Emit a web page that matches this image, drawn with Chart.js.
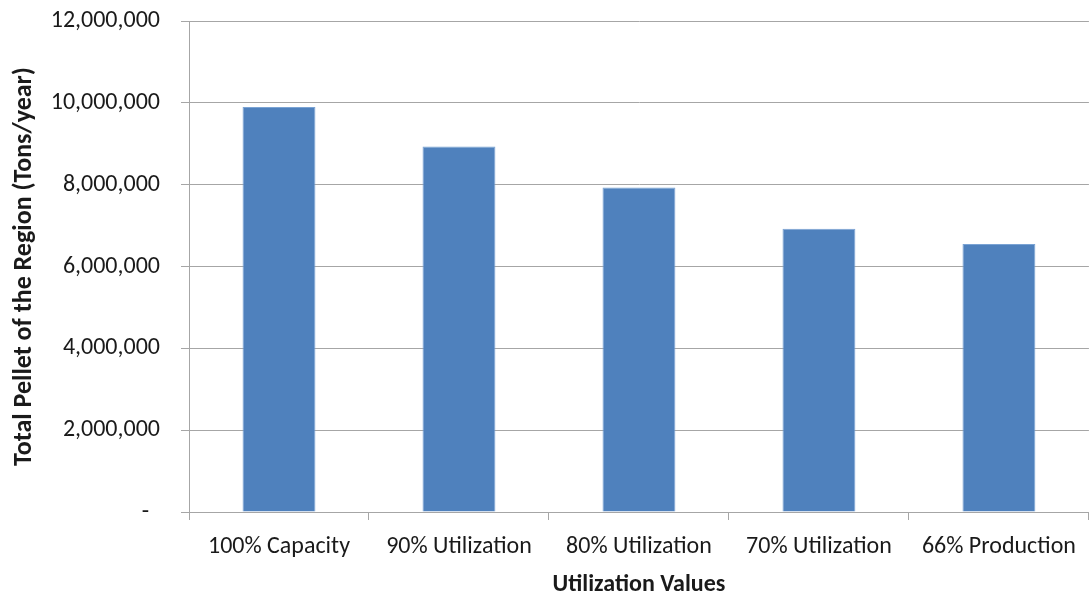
<!DOCTYPE html>
<html>
<head>
<meta charset="utf-8">
<script src="https://cdn.jsdelivr.net/npm/chart.js@4/dist/chart.umd.min.js"></script>
<style>
  html, body { margin: 0; padding: 0; background: #fff; }
  #wrap { width: 1091px; height: 592px; }
</style>
</head>
<body>
<div id="wrap"><canvas id="chart" width="1091" height="592"></canvas></div>
<script>
// 数据
const categories = ['100% Capacity', '90% Utilization', '80% Utilization', '70% Utilization', '66% Production'];
const pelletTons = [9900000, 8930000, 7930000, 6920000, 6550000];
const yTicks = [0, 2000000, 4000000, 6000000, 8000000, 10000000, 12000000];

const fontFamily = "Carlito, Calibri, Lato, sans-serif";
const gridColor = '#a6a6a6';
const textColor = '#1a1a1a';

// 零值显示为 "-"（会计格式）
function formatTick(v) {
  if (v === 0) return '-  ';
  return v.toLocaleString('en-US');
}

new Chart(document.getElementById('chart'), {
  type: 'bar',
  data: {
    labels: categories,
    datasets: [{
      data: pelletTons,
      backgroundColor: '#4f81bd',
      borderColor: '#7aa3d4',
      borderWidth: 1,
      categoryPercentage: 1,
      barPercentage: 0.405
    }]
  },
  options: {
    responsive: false,
    animation: false,
    layout: { padding: { top: 21, right: 1, left: 0, bottom: 0 } },
    plugins: {
      legend: { display: false },
      tooltip: { enabled: false }
    },
    scales: {
      x: {
        grid: {
          drawOnChartArea: false,
          color: gridColor,
          tickLength: 8,
          offset: true
        },
        border: { color: gridColor },
        ticks: {
          color: textColor,
          font: { family: fontFamily, size: 24, lineHeight: 1 },
          padding: 15,
          maxRotation: 0
        },
        title: {
          display: true,
          text: 'Utilization Values',
          color: textColor,
          font: { family: fontFamily, size: 24, weight: 'bold', lineHeight: 1 },
          padding: { top: 0, bottom: -5 }
        },
        afterFit(scale) {
          scale.height = 80;
          scale.paddingTop = 0;
        }
      },
      y: {
        min: 0,
        max: 12000000,
        afterBuildTicks(scale) {
          scale.ticks = yTicks.map(v => ({ value: v }));
        },
        grid: {
          color: gridColor,
          tickLength: 8
        },
        border: { color: gridColor },
        ticks: {
          color: textColor,
          font: { family: fontFamily, size: 24, lineHeight: 1 },
          padding: 21,
          callback: v => formatTick(v)
        },
        title: {
          display: true,
          text: 'Total Pellet of the Region (Tons/year)',
          color: textColor,
          font: { family: fontFamily, size: 26, weight: 'bold', lineHeight: 1 },
          padding: { top: 11, bottom: 0 }
        },
        afterFit(scale) {
          scale.width = 189;
          scale.paddingTop = 0;
          scale.paddingBottom = 0;
        }
      }
    }
  }
});
</script>
</body>
</html>
